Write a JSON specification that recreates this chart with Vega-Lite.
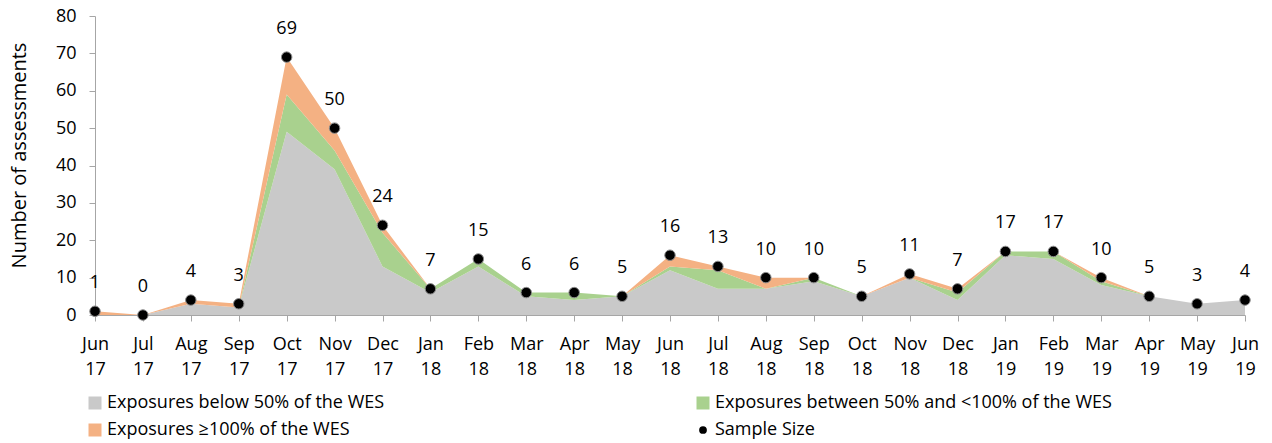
{
  "$schema": "https://vega.github.io/schema/vega-lite/v6.json",
  "width": 1150,
  "height": 299,
  "autosize": "none",
  "padding": {"left": 95, "top": 16, "right": 27, "bottom": 128},
  "background": "white",
  "config": {"view": {"stroke": null}, "font": "Open Sans"},
  "data": {
    "values": [
      {"m": "Jun 17", "a": 0, "b": 0, "c": 1, "n": 1},
      {"m": "Jul 17", "a": 0, "b": 0, "c": 0, "n": 0},
      {"m": "Aug 17", "a": 3, "b": 0, "c": 1, "n": 4},
      {"m": "Sep 17", "a": 2, "b": 0, "c": 1, "n": 3},
      {"m": "Oct 17", "a": 49, "b": 10, "c": 10, "n": 69},
      {"m": "Nov 17", "a": 39, "b": 5, "c": 6, "n": 50},
      {"m": "Dec 17", "a": 13, "b": 9, "c": 2, "n": 24},
      {"m": "Jan 18", "a": 6, "b": 1, "c": 0, "n": 7},
      {"m": "Feb 18", "a": 13, "b": 2, "c": 0, "n": 15},
      {"m": "Mar 18", "a": 5, "b": 1, "c": 0, "n": 6},
      {"m": "Apr 18", "a": 4, "b": 2, "c": 0, "n": 6},
      {"m": "May 18", "a": 5, "b": 0, "c": 0, "n": 5},
      {"m": "Jun 18", "a": 12, "b": 1, "c": 3, "n": 16},
      {"m": "Jul 18", "a": 7, "b": 5, "c": 1, "n": 13},
      {"m": "Aug 18", "a": 7, "b": 0, "c": 3, "n": 10},
      {"m": "Sep 18", "a": 9, "b": 1, "c": 0, "n": 10},
      {"m": "Oct 18", "a": 5, "b": 0, "c": 0, "n": 5},
      {"m": "Nov 18", "a": 10, "b": 0, "c": 1, "n": 11},
      {"m": "Dec 18", "a": 4, "b": 2, "c": 1, "n": 7},
      {"m": "Jan 19", "a": 16, "b": 1, "c": 0, "n": 17},
      {"m": "Feb 19", "a": 15, "b": 2, "c": 0, "n": 17},
      {"m": "Mar 19", "a": 8, "b": 1, "c": 1, "n": 10},
      {"m": "Apr 19", "a": 5, "b": 0, "c": 0, "n": 5},
      {"m": "May 19", "a": 3, "b": 0, "c": 0, "n": 3},
      {"m": "Jun 19", "a": 4, "b": 0, "c": 0, "n": 4}
    ]
  },
  "encoding": {
    "x": {
      "field": "m",
      "type": "ordinal",
      "sort": null,
      "scale": {"type": "point", "padding": 0},
      "axis": {
        "title": null,
        "labelAngle": 0,
        "labelExpr": "split(datum.value, ' ')",
        "labelFont": "Open Sans",
        "labelFontSize": 18,
        "labelColor": "#000",
        "labelLineHeight": 25,
        "labelBaseline": "top",
        "labelPadding": 14,
        "labelOverlap": false,
        "tickSize": 6,
        "tickColor": "#a6a6a6",
        "domainColor": "#a6a6a6",
        "grid": false
      }
    }
  },
  "layer": [
    {
      "transform": [{"fold": ["a", "b", "c"], "as": ["cat", "v"]}],
      "mark": {"type": "area", "opacity": 1},
      "encoding": {
        "y": {
          "field": "v",
          "type": "quantitative",
          "stack": "zero",
          "scale": {"domain": [0, 80], "nice": false},
          "axis": {
            "title": "Number of assessments",
            "titleFont": "Open Sans",
            "titleFontSize": 20,
            "titleFontWeight": "normal",
            "titleColor": "#000",
            "titlePadding": 26,
            "titleY": 139,
            "values": [0, 10, 20, 30, 40, 50, 60, 70, 80],
            "labelOverlap": false,
            "labelFont": "Open Sans",
            "labelFontSize": 18,
            "labelColor": "#000",
            "labelPadding": 13,
            "tickSize": 6,
            "tickColor": "#a6a6a6",
            "domainColor": "#a6a6a6",
            "grid": false
          }
        },
        "order": {"field": "cat", "type": "nominal", "sort": "ascending"},
        "color": {
          "field": "cat",
          "type": "nominal",
          "scale": {"domain": ["a", "b", "c", "d"], "range": ["#c9c9c9", "#a9d18e", "#f4b183", "#000000"]},
          "legend": {
            "orient": "none",
            "legendX": -9,
            "legendY": 378,
            "direction": "horizontal",
            "columns": 2,
            "columnPadding": 309,
            "rowPadding": 9,
            "title": null,
            "padding": 0,
            "labelFont": "Open Sans",
            "labelFontSize": 18,
            "labelColor": "#000",
            "labelLimit": 700,
            "labelOffset": 3,
            "symbolType": "square",
            "symbolSize": 169,
            "symbolStrokeWidth": 0,
            "symbolOpacity": 1,
            "labelExpr": "datum.label === 'a' ? 'Exposures below 50% of the WES' : datum.label === 'b' ? 'Exposures between 50% and <100% of the WES' : datum.label === 'c' ? 'Exposures ≥100% of the WES' : 'Sample Size'",
            "encode": {
              "symbols": {
                "update": {
                  "shape": {"signal": "datum.value === 'd' ? 'circle' : 'square'"},
                  "size": {"signal": "datum.value === 'd' ? 60 : 169"}
                }
              }
            }
          }
        }
      }
    },
    {
      "mark": {"type": "point", "filled": true, "size": 110, "stroke": "#8c8c8c", "strokeWidth": 1, "opacity": 1},
      "encoding": {
        "y": {
          "field": "n",
          "type": "quantitative",
          "axis": {
            "title": "Number of assessments",
            "titleFont": "Open Sans",
            "titleFontSize": 20,
            "titleFontWeight": "normal",
            "titleColor": "#000",
            "titlePadding": 26,
            "titleY": 139,
            "values": [0, 10, 20, 30, 40, 50, 60, 70, 80],
            "labelOverlap": false,
            "labelFont": "Open Sans",
            "labelFontSize": 18,
            "labelColor": "#000",
            "labelPadding": 13,
            "tickSize": 6,
            "tickColor": "#a6a6a6",
            "domainColor": "#a6a6a6",
            "grid": false
          }
        },
        "color": {"datum": "d", "type": "nominal"}
      }
    },
    {
      "mark": {"type": "text", "dy": -23, "baseline": "alphabetic", "fontSize": 18, "font": "Open Sans", "color": "#000"},
      "encoding": {
        "y": {
          "field": "n",
          "type": "quantitative",
          "axis": {
            "title": "Number of assessments",
            "titleFont": "Open Sans",
            "titleFontSize": 20,
            "titleFontWeight": "normal",
            "titleColor": "#000",
            "titlePadding": 26,
            "titleY": 139,
            "values": [0, 10, 20, 30, 40, 50, 60, 70, 80],
            "labelOverlap": false,
            "labelFont": "Open Sans",
            "labelFontSize": 18,
            "labelColor": "#000",
            "labelPadding": 13,
            "tickSize": 6,
            "tickColor": "#a6a6a6",
            "domainColor": "#a6a6a6",
            "grid": false
          }
        },
        "text": {"field": "n", "type": "quantitative"}
      }
    }
  ]
}
